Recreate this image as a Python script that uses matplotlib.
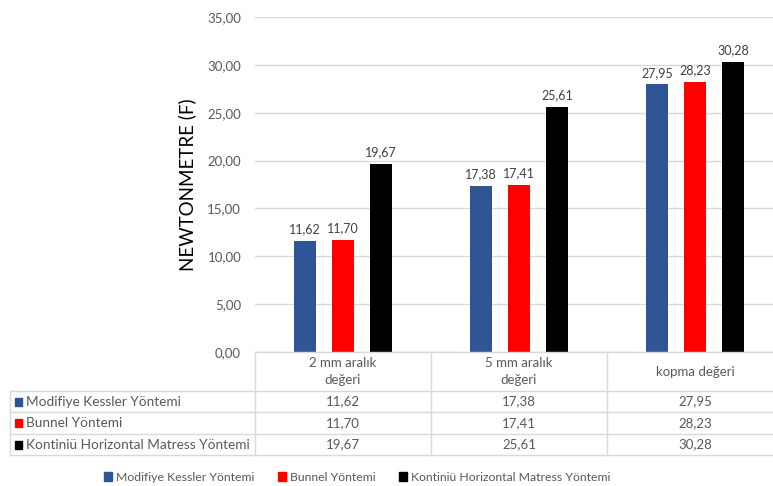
import numpy as np
import matplotlib
matplotlib.use('Agg')
import matplotlib.pyplot as plt
from matplotlib.patches import Rectangle

plt.rcParams['font.family'] = ['Lato', 'DejaVu Sans']

# data
categories = ['2 mm aralık\ndeğeri', '5 mm aralık\ndeğeri', 'kopma değeri']
series_names = ['Modifiye Kessler Yöntemi', 'Bunnel Yöntemi',
                'Kontiniü Horizontal Matress Yöntemi']
modifiye = [11.62, 17.38, 27.95]
bunnel = [11.70, 17.41, 28.23]
kontinu = [19.67, 25.61, 30.28]
colors = ['#2F5597', '#FF0000', '#000000']
yticks = [0, 5, 10, 15, 20, 25, 30, 35]

txt = '#595959'
grid = '#D9D9D9'
W, H = 773, 486

def fx(px):
    return px / W

def fy(py):
    return 1 - py / H

def comma(v):
    return ('%.2f' % v).replace('.', ',')

fig = plt.figure(figsize=(7.73, 4.86), dpi=100)

# plot area (right edge runs slightly past the picture, like the source)
x0, x1, ytop, ybot = 255, 783, 17, 352
ax = fig.add_axes([fx(x0), fy(ybot), fx(x1) - fx(x0), fy(ytop) - fy(ybot)])

values = [modifiye, bunnel, kontinu]
x = np.arange(len(categories))
bw = 0.125
step = 0.216
for i, (vals, c) in enumerate(zip(values, colors)):
    pos = x + (i - 1) * step
    ax.bar(pos, vals, width=bw, color=c, zorder=3)
    for p, v in zip(pos, vals):
        ax.text(p, v + 0.6, comma(v), ha='center', va='bottom',
                fontsize=9, color='#404040')

ax.set_xlim(-0.5, len(categories) - 0.5)
ax.set_ylim(0, 35)
ax.set_yticks(yticks)
ax.set_yticklabels([comma(t) for t in yticks])
ax.tick_params(axis='y', length=0, labelsize=9.5, labelcolor=txt, pad=10)
ax.set_xticks([])
ax.yaxis.grid(True, color=grid, lw=1, zorder=0)
for s in ax.spines.values():
    s.set_visible(False)
ax.set_ylabel('NEWTONMETRE (F)', fontsize=13.5, color='#000000', labelpad=8)

# data table under the chart
cols = [10, 255, 431, 607, 783]
rows = [352, 391, 412, 434, 455]
lc = '#D9D9D9'
# vertical lines
for cx in cols[1:]:
    fig.add_artist(plt.Line2D([fx(cx), fx(cx)], [fy(rows[0]), fy(rows[-1])],
                              color=lc, lw=1))
fig.add_artist(plt.Line2D([fx(cols[0]), fx(cols[0])], [fy(rows[1]), fy(rows[-1])],
                          color=lc, lw=1))
# horizontal lines
fig.add_artist(plt.Line2D([fx(cols[1]), fx(cols[-1])], [fy(rows[0]), fy(rows[0])],
                          color=lc, lw=1))
for ry in rows[1:]:
    fig.add_artist(plt.Line2D([fx(cols[0]), fx(cols[-1])], [fy(ry), fy(ry)],
                              color=lc, lw=1))

for j, cat in enumerate(categories):
    cx = (cols[j + 1] + cols[j + 2]) / 2
    fig.text(fx(cx), fy((rows[0] + rows[1]) / 2), cat, ha='center', va='center',
             fontsize=9.5, color=txt, linespacing=1.45)

for i, (name, vals, c) in enumerate(zip(series_names, values, colors)):
    cy = (rows[i + 1] + rows[i + 2]) / 2
    fig.add_artist(Rectangle((fx(15), fy(cy + 4)), fx(7), fy(cy - 4) - fy(cy + 4),
                             color=c, transform=fig.transFigure))
    fig.text(fx(26), fy(cy), name, ha='left', va='center', fontsize=9.8, color=txt)
    for j, v in enumerate(vals):
        cx = (cols[j + 1] + cols[j + 2]) / 2
        fig.text(fx(cx), fy(cy), comma(v), ha='center', va='center',
                 fontsize=9.5, color=txt)

# legend
handles = [Rectangle((0, 0), 1, 1, color=c) for c in colors]
fig.legend(handles, series_names, loc='center', bbox_to_anchor=(fx(357), fy(477)),
           ncol=3, frameon=False, fontsize=8.8, labelcolor=txt,
           handlelength=0.7, handleheight=0.7, handletextpad=0.3,
           columnspacing=1.9)

fig.savefig('out.png', dpi=100)
